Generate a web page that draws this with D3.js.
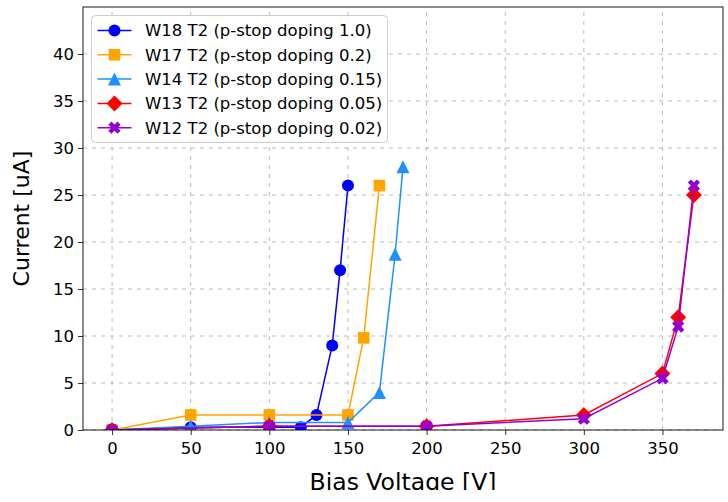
<!DOCTYPE html>
<html><head><meta charset="utf-8">
<script src="https://cdn.jsdelivr.net/npm/d3@7"></script>
<style>body{margin:0;background:#fff}svg{display:block;font-family:"DejaVu Sans",sans-serif}</style>
</head><body>
<svg id="c" width="728" height="502"></svg>
<script>
const xTicks = [0,50,100,150,200,250,300,350];
const yTicks = [0,5,10,15,20,25,30,35,40];
const labels = ["W18 T2 (p-stop doping 1.0)","W17 T2 (p-stop doping 0.2)","W14 T2 (p-stop doping 0.15)","W13 T2 (p-stop doping 0.05)","W12 T2 (p-stop doping 0.02)"];
const colors = ["#0000ff","#ffa500","#1e90ff","#ff0000","#9400d3"];
const markers = ["circle","square","triangle","diamond","x"];
const w18V = [0,50,100,120,130,140,145,150];
const w18I = [0,0.3,0.3,0.3,1.6,9.0,17.0,26.0];
const w17V = [0,50,100,150,160,170];
const w17I = [0,1.6,1.6,1.6,9.8,26.0];
const w14V = [0,50,100,150,170,180,185];
const w14I = [0,0.4,0.8,0.8,4.0,18.7,28.0];
const w13V = [0,100,200,300,350,360,370];
const w13I = [0,0.4,0.4,1.6,6.0,12.0,25.0];
const w12V = [0,100,200,300,350,360,370];
const w12I = [0,0.4,0.4,1.2,5.5,11.0,26.0];
const xLabel = "Bias Voltage [V]";
const yLabel = "Current [uA]";

const series = [[w18V,w18I],[w17V,w17I],[w14V,w14I],[w13V,w13I],[w12V,w12I]].map((s,i)=>({
  name: labels[i], color: colors[i], marker: markers[i],
  pts: s[0].map((v,j)=>({x:v,y:s[1][j]}))
}));

const W=728,H=502, m={l:83,r:5,t:7,b:72};
const svg=d3.select("#c");
const x=d3.scaleLinear().domain([-18.5,388.5]).range([m.l,W-m.r]);
const y=d3.scaleLinear().domain([0,45]).range([H-m.b,m.t]);

// grid
const g=svg.append("g");
g.selectAll(".gx").data(xTicks).join("line").attr("x1",d=>x(d)).attr("x2",d=>x(d)).attr("y1",y(0)).attr("y2",y(45))
 .attr("stroke","#bcbcbc").attr("stroke-width",1).attr("stroke-dasharray","4,5");
g.selectAll(".gy").data(yTicks).join("line").attr("y1",d=>y(d)).attr("y2",d=>y(d)).attr("x1",x.range()[0]).attr("x2",x.range()[1])
 .attr("stroke","#bcbcbc").attr("stroke-width",1).attr("stroke-dasharray","4,5");

svg.append("clipPath").attr("id","clip").append("rect").attr("x",m.l).attr("y",m.t).attr("width",W-m.l-m.r).attr("height",H-m.t-m.b);
svg.append("clipPath").attr("id","clipfig").append("rect").attr("x",0).attr("y",0).attr("width",W).attr("height",490);

function markerPath(type){
  const p=d3.path();
  if(type==="circle"){ p.arc(0,0,6,0,2*Math.PI); }
  else if(type==="square"){ p.rect(-5.8,-5.8,11.6,11.6); }
  else if(type==="triangle"){ p.moveTo(0,-6.5); p.lineTo(6.5,6.5); p.lineTo(-6.5,6.5); p.closePath(); }
  else if(type==="diamond"){ p.moveTo(0,-8); p.lineTo(8,0); p.lineTo(0,8); p.lineTo(-8,0); p.closePath(); }
  return p.toString();
}
function xShape(){
  const a=4.6, k=3.1;
  const p=d3.path();
  const pts=[[0,-k],[a-k/2,-a-k/2],[a+k/2,-a+k/2],[k,0],[a+k/2,a-k/2],[a-k/2,a+k/2],[0,k],[-a+k/2,a+k/2],[-a-k/2,a-k/2],[-k,0],[-a-k/2,-a+k/2],[-a+k/2,-a-k/2]];
  p.moveTo(pts[0][0],pts[0][1]); pts.slice(1).forEach(q=>p.lineTo(q[0],q[1])); p.closePath();
  return p.toString();
}
function shape(t){ return t==="x"? xShape() : markerPath(t); }

const plot=svg.append("g").attr("clip-path","url(#clip)");
const line=d3.line().x(d=>x(d.x)).y(d=>y(d.y));
series.forEach(s=>{
  const gg=plot.append("g");
  gg.append("path").attr("d",line(s.pts)).attr("fill","none").attr("stroke",s.color).attr("stroke-width",1.5);
  gg.selectAll("path.m").data(s.pts).join("path").attr("class","m").attr("d",shape(s.marker))
    .attr("transform",d=>`translate(${x(d.x)},${y(d.y)})`).attr("fill",s.color);
});

// axes
const ax=svg.append("g").attr("transform",`translate(0,${y(0)})`)
 .call(d3.axisBottom(x).tickValues(xTicks).tickSize(5).tickPadding(7).tickSizeOuter(0));
const ay=svg.append("g").attr("transform",`translate(${m.l},0)`)
 .call(d3.axisLeft(y).tickValues(yTicks).tickSize(5).tickPadding(4).tickSizeOuter(0));
[ax,ay].forEach(a=>{a.select(".domain").remove(); a.selectAll("text").attr("font-size",16.5).attr("fill","#000").attr("font-family","DejaVu Sans");
  a.selectAll("line").attr("stroke","#000").attr("stroke-width",0.8);});
// spines
svg.append("rect").attr("x",m.l).attr("y",m.t).attr("width",W-m.l-m.r).attr("height",H-m.t-m.b).attr("fill","none").attr("stroke","#000").attr("stroke-width",0.9);

svg.append("g").attr("clip-path","url(#clipfig)").append("text").attr("x",(m.l+W-m.r)/2).attr("y",490).attr("text-anchor","middle").attr("font-size",23.5).text(xLabel);
svg.append("text").attr("transform",`translate(29,${(m.t+H-m.b)/2}) rotate(-90)`).attr("text-anchor","middle").attr("font-size",22).text(yLabel);

// legend
const lg=svg.append("g");
lg.append("rect").attr("x",91.5).attr("y",15.5).attr("width",296).attr("height",127).attr("rx",4).attr("fill","#fff").attr("fill-opacity",0.85).attr("stroke","#cccccc");
series.forEach((s,i)=>{
  const cy=30.5+i*24.3;
  lg.append("line").attr("x1",97.5).attr("x2",131.5).attr("y1",cy).attr("y2",cy).attr("stroke",s.color).attr("stroke-width",1.5);
  lg.append("path").attr("d",shape(s.marker)).attr("transform",`translate(114.5,${cy})`).attr("fill",s.color);
  lg.append("text").attr("x",145).attr("y",cy).attr("dy","0.36em").attr("font-size",16.5).attr("fill","#000").text(s.name);
});
</script>
</body></html>
